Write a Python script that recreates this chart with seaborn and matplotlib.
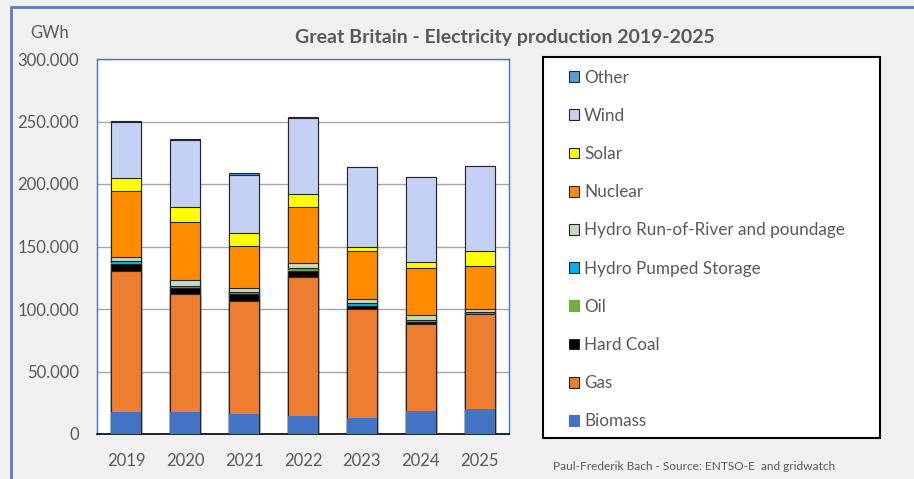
import numpy as np
import pandas as pd
import seaborn as sns
import matplotlib.pyplot as plt
from matplotlib.patches import Rectangle
from matplotlib.lines import Line2D
from matplotlib.ticker import FuncFormatter, MultipleLocator

# GWh per year (in thousands)
years = ['2019', '2020', '2021', '2022', '2023', '2024', '2025']
biomass = [17.3, 17.9, 15.7, 14.7, 13.1, 18.4, 19.7]
gas = [113.1, 94.1, 90.7, 111.2, 86.9, 69.3, 76.0]
hard_coal = [6.0, 5.0, 5.3, 4.9, 2.5, 2.1, 0.1]
oil = [0.1, 0.1, 0.1, 0.1, 0.1, 0.1, 0.1]
hydro_pumped = [2.0, 1.5, 1.5, 1.6, 2.0, 1.3, 1.5]
hydro_ror = [3.0, 4.6, 3.2, 4.0, 3.7, 3.7, 2.6]
nuclear = [52.9, 46.7, 33.6, 44.8, 37.8, 37.6, 34.4]
solar = [10.6, 11.4, 10.7, 10.7, 3.8, 5.1, 12.3]
wind = [44.5, 53.7, 46.7, 61.0, 63.8, 68.1, 67.8]
other = [1.1, 1.3, 1.5, 0.3, 0.2, 0.2, 0.2]

sources = ['Biomass', 'Gas', 'Hard Coal', 'Oil', 'Hydro Pumped Storage',
           'Hydro Run-of-River and poundage', 'Nuclear', 'Solar', 'Wind', 'Other']
series = [biomass, gas, hard_coal, oil, hydro_pumped, hydro_ror, nuclear, solar, wind, other]
colors = ['#4472C4', '#ED7D31', '#000000', '#70AD47', '#00B0F0',
          '#C3DCC0', '#FF8C00', '#FFFF00', '#C5D1F3', '#5B9BD5']
edged = [False, True, True, False, True, True, True, True, True, True]

df = pd.DataFrame({name: np.array(vals) * 1000 for name, vals in zip(sources, series)})
df['Year'] = years
cum = df[sources].cumsum(axis=1)

sns.set_style('white')
plt.rcParams['font.family'] = ['Lato', 'DejaVu Sans']
grey = '#595959'

fig = plt.figure(figsize=(9.14, 4.79), dpi=100)
fig.patch.set_facecolor('#F0F0F0')
ax = fig.add_axes([97/914, 45/479, 412/914, 375/479])
ax.set_facecolor('white')

# overlapping cumulative bars, top layer first
for name, color, edge in reversed(list(zip(sources, colors, edged))):
    sns.barplot(x=df['Year'], y=cum[name], color=color, saturation=1, width=0.51,
                edgecolor='#262626' if edge else color, linewidth=0.8 if edge else 0,
                ax=ax, zorder=3)

ax.set_ylim(0, 300000)
ax.set_xlim(-0.5, 6.5)
ax.yaxis.set_major_locator(MultipleLocator(50000))
ax.yaxis.set_major_formatter(FuncFormatter(lambda v, p: f'{v:,.0f}'.replace(',', '.')))
ax.grid(axis='y', color='#A6A6A6', linewidth=1, zorder=0)
ax.set_axisbelow(True)
ax.set_xlabel('')
ax.set_ylabel('')

ax.set_xticks(np.arange(-0.5, 7, 1), minor=True)
ax.tick_params(axis='x', which='major', length=0, pad=14, labelsize=12, labelcolor=grey)
ax.tick_params(axis='x', which='minor', length=7, width=1.2, color='black', direction='out')
ax.tick_params(axis='y', length=0, pad=13, labelsize=12, labelcolor=grey)
for side in ['left', 'top', 'right']:
    ax.spines[side].set_color('#4472C4')
    ax.spines[side].set_linewidth(1)
ax.spines['bottom'].set_color('black')
ax.spines['bottom'].set_linewidth(1.2)

fig.text(50/914, 1 - 33/479, 'GWh', ha='center', va='center', fontsize=12, color=grey)
fig.text(505/914, 1 - 38/479, 'Great Britain - Electricity production 2019-2025',
         ha='center', va='center', fontsize=14, fontweight='bold', color=grey)
fig.text(553/914, 1 - 466/479, 'Paul-Frederik Bach - Source: ENTSO-E  and gridwatch',
         ha='left', va='center', fontsize=8.6, color=grey)

# legend box
fig.add_artist(Rectangle((543/914, 1 - 438/479), 337/914, 381/479, transform=fig.transFigure,
                         facecolor='white', edgecolor='black', linewidth=1.5))
handles = [Rectangle((0, 0), 1, 1, facecolor=c, edgecolor='#262626' if e else c, linewidth=0.8)
           for c, e in zip(colors, edged)]
fig.legend(handles[::-1], sources[::-1], loc='upper left',
           bbox_to_anchor=(560/914, 1 - 61/479), frameon=False, fontsize=12.3,
           labelcolor=grey, handlelength=0.6, handleheight=0.6, handletextpad=0.3,
           labelspacing=1.3, borderpad=0)

# outer picture border
fig.add_artist(Line2D([11/914, 1], [1 - 7/479, 1 - 7/479], transform=fig.transFigure,
                      color='#5B7BC8', linewidth=2))
fig.add_artist(Line2D([11/914, 11/914], [0, 1 - 7/479], transform=fig.transFigure,
                      color='#5B7BC8', linewidth=2))

fig.savefig('out.png', dpi=100, facecolor=fig.get_facecolor())
